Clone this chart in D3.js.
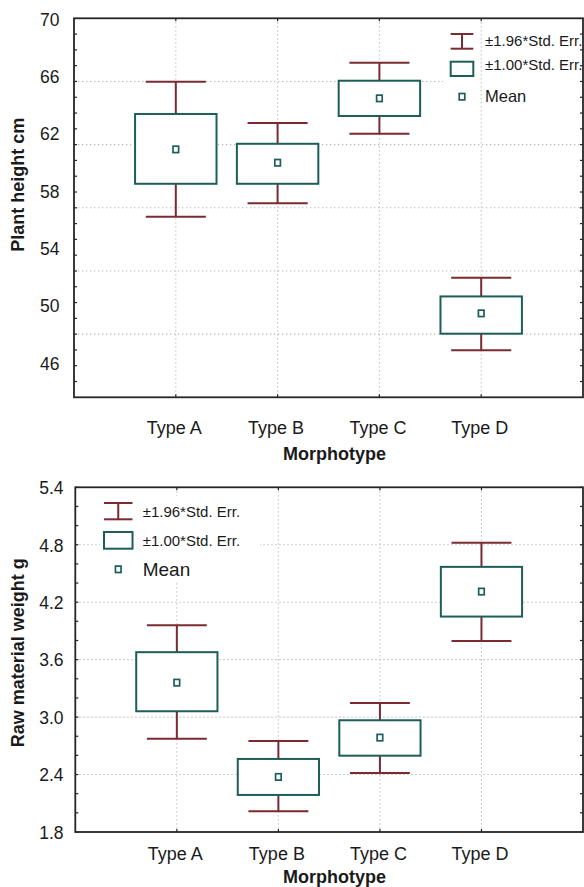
<!DOCTYPE html>
<html>
<head>
<meta charset="utf-8">
<script src="https://cdn.jsdelivr.net/npm/d3@7/dist/d3.min.js"></script>
<style>
  html, body { margin: 0; padding: 0; background: #fff; }
  svg { display: block; }
  text { font-family: "Liberation Sans", Arial, sans-serif; fill: #1a1a1a; }
</style>
</head>
<body>
<svg id="chart" width="584" height="887"></svg>
<script>
// ---------- data ----------
const categories = ["Type A", "Type B", "Type C", "Type D"];

// Plant height (cm)
const heightMean   = [60.89, 59.96, 64.45, 49.45];
const heightSeLow  = [58.49, 58.49, 63.22, 48.03];
const heightSeHigh = [63.36, 61.28, 65.68, 50.63];
const heightCiLow  = [56.19, 57.13, 61.98, 46.87];
const heightCiHigh = [65.61, 62.73, 66.94, 51.93];
const heightTicks  = [70, 66, 62, 58, 54, 50, 46];

// Raw material weight (g)
const weightMean   = [3.360, 2.375, 2.786, 4.311];
const weightSeLow  = [3.061, 2.187, 2.597, 4.050];
const weightSeHigh = [3.678, 2.563, 2.967, 4.569];
const weightCiLow  = [2.775, 2.016, 2.417, 3.796];
const weightCiHigh = [3.960, 2.751, 3.148, 4.820];
const weightTicks  = [5.4, 4.8, 4.2, 3.6, 3.0, 2.4, 1.8];
const weightMinor  = [5.2, 5.0, 4.6, 4.4, 4.0, 3.8, 3.4, 3.2, 2.8, 2.6, 2.2, 2.0];

const legendLabels = ["\u00B11.96*Std. Err.", "\u00B11.00*Std. Err.", "Mean"];

// ---------- style ----------
const WHISKER = "#7a2b31";
const BOX = "#1d5e59";
const GRID = "#b8b8b8";
const AXIS = "#262626";

const svg = d3.select("#chart");

function drawPanel(cfg) {
  const g = svg.append("g");
  const x = d3.scalePoint().domain(categories).range([cfg.x0, cfg.x1]).padding(1);
  const step = x.step();
  const y = cfg.y; // value scale
  const rows = categories.map((c, i) => ({
    c, mean: cfg.mean[i], seLo: cfg.seLow[i], seHi: cfg.seHigh[i],
    ciLo: cfg.ciLow[i], ciHi: cfg.ciHigh[i]
  }));

  // horizontal grid
  g.append("g").selectAll("line").data(cfg.gridVals).join("line")
    .attr("x1", cfg.x0).attr("x2", cfg.x1)
    .attr("y1", d => cfg.gridScale(d)).attr("y2", d => cfg.gridScale(d))
    .attr("stroke", GRID).attr("stroke-width", 1.1).attr("stroke-dasharray", "1.3,2.7");

  // legend background (occludes grid)
  g.append("rect")
    .attr("x", cfg.legend.bx0).attr("y", cfg.legend.by0)
    .attr("width", cfg.legend.bx1 - cfg.legend.bx0).attr("height", cfg.legend.by1 - cfg.legend.by0)
    .attr("fill", "#fff");

  // vertical grid
  g.append("g").selectAll("line").data(categories).join("line")
    .attr("x1", d => x(d)).attr("x2", d => x(d))
    .attr("y1", cfg.y0).attr("y2", cfg.y1)
    .attr("stroke", GRID).attr("stroke-width", 1.1).attr("stroke-dasharray", "1.3,2.7");
  if (cfg.legend.cover) {
    g.append("rect")
      .attr("x", cfg.legend.bx0).attr("y", cfg.legend.by0)
      .attr("width", cfg.legend.bx1 - cfg.legend.bx0).attr("height", cfg.legend.by1 - cfg.legend.by0)
      .attr("fill", "#fff");
  }

  const boxW = step * 0.8;
  const capW = step * 0.59;

  // whiskers
  const wg = g.append("g").attr("stroke", WHISKER).attr("stroke-width", 2).attr("fill", "none");
  wg.selectAll(".wu").data(rows).join("line")
    .attr("x1", d => x(d.c)).attr("x2", d => x(d.c))
    .attr("y1", d => y(d.ciHi)).attr("y2", d => y(d.seHi));
  wg.selectAll(".wl").data(rows).join("line")
    .attr("x1", d => x(d.c)).attr("x2", d => x(d.c))
    .attr("y1", d => y(d.seLo)).attr("y2", d => y(d.ciLo));
  wg.selectAll(".cu").data(rows).join("line")
    .attr("x1", d => x(d.c) - capW / 2).attr("x2", d => x(d.c) + capW / 2)
    .attr("y1", d => y(d.ciHi)).attr("y2", d => y(d.ciHi));
  wg.selectAll(".cl").data(rows).join("line")
    .attr("x1", d => x(d.c) - capW / 2).attr("x2", d => x(d.c) + capW / 2)
    .attr("y1", d => y(d.ciLo)).attr("y2", d => y(d.ciLo));

  // boxes
  g.append("g").selectAll("rect").data(rows).join("rect")
    .attr("x", d => x(d.c) - boxW / 2).attr("width", boxW)
    .attr("y", d => y(d.seHi)).attr("height", d => y(d.seLo) - y(d.seHi))
    .attr("fill", "#fff").attr("stroke", BOX).attr("stroke-width", 2);

  // means
  g.append("g").selectAll("rect").data(rows).join("rect")
    .attr("x", d => x(d.c) - 2.8).attr("width", 5.6)
    .attr("y", d => y(d.mean) - 3.2).attr("height", 6.4)
    .attr("fill", "#fff").attr("stroke", BOX).attr("stroke-width", 1.7);

  // frame
  g.append("rect")
    .attr("x", cfg.x0).attr("y", cfg.y0)
    .attr("width", cfg.x1 - cfg.x0).attr("height", cfg.y1 - cfg.y0)
    .attr("fill", "none").attr("stroke", AXIS).attr("stroke-width", 1.8);

  // inner ticks on left/right (minor)
  const tg = g.append("g").attr("stroke", AXIS).attr("stroke-width", 1.2);
  tg.selectAll(".tl").data(cfg.minorVals).join("line")
    .attr("x1", cfg.x0).attr("x2", cfg.x0 + 3)
    .attr("y1", d => cfg.gridScale(d)).attr("y2", d => cfg.gridScale(d));
  tg.selectAll(".tr").data(cfg.minorVals).join("line")
    .attr("x1", cfg.x1).attr("x2", cfg.x1 - 3)
    .attr("y1", d => cfg.gridScale(d)).attr("y2", d => cfg.gridScale(d));
  // category ticks top/bottom
  tg.selectAll(".tb").data(categories).join("line")
    .attr("x1", d => x(d)).attr("x2", d => x(d))
    .attr("y1", cfg.y1).attr("y2", cfg.y1 - 3);
  tg.selectAll(".tt").data(categories).join("line")
    .attr("x1", d => x(d)).attr("x2", d => x(d))
    .attr("y1", cfg.y0).attr("y2", cfg.y0 + 3);

  // y tick labels via axis on label scale
  const yAxis = d3.axisLeft(cfg.labelScale).tickValues(cfg.ticks)
    .tickFormat(cfg.fmt).tickSize(0).tickPadding(0);
  const ya = g.append("g").attr("transform", `translate(${cfg.labelX},0)`).call(yAxis);
  ya.select(".domain").remove();
  ya.selectAll("text").attr("font-size", 17.5).attr("fill", "#1a1a1a")
    .attr("font-family", '"Liberation Sans", Arial, sans-serif')
    .attr("dy", "0.36em");

  // x labels via axis
  const xAxis = d3.axisBottom(x).tickSize(0).tickPadding(0);
  const xa = g.append("g").attr("transform", `translate(-2,${cfg.xLabelBase})`).call(xAxis);
  xa.select(".domain").remove();
  xa.selectAll("text").attr("font-size", 18).attr("fill", "#1a1a1a")
    .attr("font-family", '"Liberation Sans", Arial, sans-serif')
    .attr("y", 0).attr("dy", 0);

  // axis titles
  g.append("text").attr("x", 334.5).attr("y", cfg.xTitleBase)
    .attr("text-anchor", "middle").attr("font-size", 18).attr("font-weight", "bold")
    .text("Morphotype");
  g.append("text")
    .attr("transform", `translate(23.5,${cfg.yTitleCy}) rotate(-90)`)
    .attr("text-anchor", "middle").attr("font-size", 18).attr("font-weight", "bold")
    .text(cfg.yTitle);

  // legend
  const L = cfg.legend;
  const lg = g.append("g");
  lg.append("line").attr("x1", L.ix0).attr("x2", L.ix1).attr("y1", L.w0).attr("y2", L.w0)
    .attr("stroke", WHISKER).attr("stroke-width", 2);
  lg.append("line").attr("x1", L.ix0).attr("x2", L.ix1).attr("y1", L.w1).attr("y2", L.w1)
    .attr("stroke", WHISKER).attr("stroke-width", 2);
  lg.append("line").attr("x1", (L.ix0 + L.ix1) / 2).attr("x2", (L.ix0 + L.ix1) / 2)
    .attr("y1", L.w0).attr("y2", L.w1).attr("stroke", WHISKER).attr("stroke-width", 2);
  lg.append("rect").attr("x", L.ix0).attr("y", L.b0).attr("width", L.ix1 - L.ix0)
    .attr("height", L.b1 - L.b0).attr("fill", "#fff").attr("stroke", BOX).attr("stroke-width", 2);
  lg.append("rect").attr("x", (L.ix0 + L.ix1) / 2 - 2.8).attr("y", L.m - 3.2)
    .attr("width", 5.6).attr("height", 6.4)
    .attr("fill", "#fff").attr("stroke", BOX).attr("stroke-width", 1.7);
  const ty = [L.t0, L.t1, L.t2];
  lg.selectAll("text").data(legendLabels).join("text")
    .attr("x", L.tx).attr("y", (d, i) => ty[i])
    .attr("dy", "0.36em")
    .attr("font-size", (d, i) => i === 2 ? L.meanSize : L.size)
    .text(d => d);
}

// ---------- top panel ----------
const topY0 = 18.3, topY1 = 397.3;
const heightScale = d3.scaleLinear().domain([70, 46]).range([18.8, 362.8]);
const topGrid = d3.scaleLinear().domain([0, 24]).range([topY0, topY1]);
drawPanel({
  x0: 74, x1: 583, y0: topY0, y1: topY1,
  y: heightScale, labelScale: heightScale, ticks: heightTicks, fmt: d3.format("d"),
  gridScale: topGrid, gridVals: [4, 8, 12, 16, 20], minorVals: d3.range(1, 24),
  mean: heightMean, seLow: heightSeLow, seHigh: heightSeHigh, ciLow: heightCiLow, ciHigh: heightCiHigh,
  labelX: 59.5, xLabelBase: 433.6, xTitleBase: 459.7,
  yTitle: "Plant height cm", yTitleCy: 184.7,
  legend: { bx0: 443, bx1: 582, by0: 28, by1: 88, cover: false,
            ix0: 450.7, ix1: 473.3, w0: 34, w1: 48.7, b0: 61.7, b1: 76, m: 96.7,
            tx: 485, t0: 40.5, t1: 64.7, t2: 95.7, size: 15, meanSize: 16.5 }
});

// ---------- bottom panel ----------
const botY0 = 487.3, botY1 = 832;
const weightScale = d3.scaleLinear().domain([1.8, 5.4]).range([botY1, botY0]);
drawPanel({
  x0: 75.3, x1: 583, y0: botY0, y1: botY1,
  y: weightScale, labelScale: weightScale, ticks: weightTicks, fmt: d3.format(".1f"),
  gridScale: weightScale, gridVals: [4.8, 4.2, 3.6, 3.0, 2.4], minorVals: weightTicks.concat(weightMinor),
  mean: weightMean, seLow: weightSeLow, seHigh: weightSeHigh, ciLow: weightCiLow, ciHigh: weightCiHigh,
  labelX: 63.5, xLabelBase: 859.6, xTitleBase: 882.5,
  yTitle: "Raw material weight g", yTitleCy: 652.7,
  legend: { bx0: 100, bx1: 260, by0: 496, by1: 582, cover: true,
            ix0: 104, ix1: 132.5, w0: 503, w1: 519.3, b0: 532, b1: 548.7, m: 569.3,
            tx: 142.7, t0: 511.7, t1: 540.3, t2: 569.3, size: 15, meanSize: 19 }
});
</script>
</body>
</html>
